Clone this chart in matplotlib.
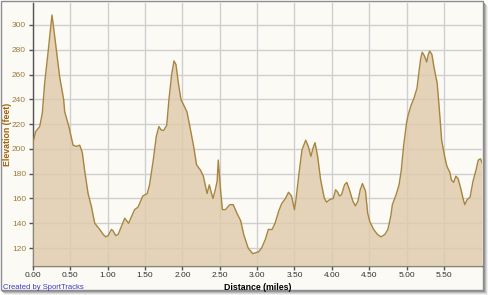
import matplotlib
matplotlib.use("Agg")
import matplotlib.pyplot as plt
from matplotlib.patches import Rectangle

plt.rcParams["font.family"] = ["Liberation Sans", "DejaVu Sans"]

# elevation profile (miles, feet)
dist = [0.00, 0.036, 0.09, 0.125, 0.156, 0.20, 0.254, 0.29, 0.357, 0.41, 0.424, 0.48,
        0.536, 0.58, 0.625, 0.66, 0.69, 0.737, 0.78, 0.826, 0.893, 0.94, 0.973, 1.005,
        1.05, 1.07, 1.107, 1.14, 1.18, 1.228, 1.28, 1.317, 1.36, 1.406, 1.47, 1.53,
        1.56, 1.61, 1.65, 1.685, 1.72, 1.75, 1.79, 1.82, 1.856, 1.887, 1.914, 1.946,
        1.98, 2.02, 2.06, 2.10, 2.15, 2.19, 2.24, 2.28, 2.33, 2.36, 2.39, 2.41,
        2.44, 2.465, 2.48, 2.51, 2.535, 2.576, 2.635, 2.68, 2.73, 2.78, 2.82, 2.88,
        2.94, 2.97, 3.02, 3.06, 3.11, 3.15, 3.20, 3.24, 3.29, 3.33, 3.38, 3.42,
        3.46, 3.50, 3.52, 3.56, 3.60, 3.65, 3.685, 3.72, 3.75, 3.775, 3.81, 3.85,
        3.90, 3.93, 3.97, 4.02, 4.05, 4.08, 4.10, 4.13, 4.17, 4.20, 4.23, 4.28,
        4.315, 4.35, 4.38, 4.41, 4.45, 4.48, 4.51, 4.56, 4.61, 4.66, 4.71, 4.75,
        4.79, 4.81, 4.86, 4.90, 4.93, 4.96, 5.00, 5.02, 5.06, 5.10, 5.14, 5.17,
        5.19, 5.21, 5.24, 5.27, 5.29, 5.31, 5.34, 5.37, 5.41, 5.44, 5.47, 5.51,
        5.54, 5.58, 5.60, 5.63, 5.66, 5.69, 5.73, 5.76, 5.78, 5.81, 5.85, 5.89,
        5.93, 5.96, 5.99, 6.01]
elev = [205, 214, 218, 229, 253, 277, 308, 291, 258, 240, 230, 218,
        203, 202, 203, 197, 183, 164, 154, 140, 135, 131, 129, 130,
        135, 134, 130, 131, 137, 144, 140, 145, 151, 153, 162, 164,
        171, 191, 210, 218, 215, 215, 219, 240, 260, 271, 268, 253,
        240, 235, 230, 218, 202, 187, 183, 178, 164, 171, 164, 160,
        167, 174, 191, 167, 151, 151, 155, 155, 148, 142, 131, 120,
        115.5, 116, 117, 120, 127, 135, 135, 140, 150, 156, 160, 165,
        162, 151, 159, 180, 199, 207, 202, 194, 201, 205, 194, 175,
        160, 157, 159, 160, 167, 165, 162, 163, 171, 173, 168, 158,
        154, 158, 167, 172, 166, 148, 141, 135, 131, 129, 131, 135,
        146, 155, 163, 171, 183, 202, 221, 227, 235, 241, 249, 264,
        273, 278, 275, 270, 276, 279, 276, 265, 253, 231, 207, 194,
        186, 181, 175, 173, 178, 176, 167, 159, 155, 159, 161, 174,
        183, 191, 192, 189]

xticks = [0.0, 0.5, 1.0, 1.5, 2.0, 2.5, 3.0, 3.5, 4.0, 4.5, 5.0, 5.5]
yticks = [120, 140, 160, 180, 200, 220, 240, 260, 280, 300]

W, H = 489, 295
fig = plt.figure(figsize=(W / 100, H / 100), dpi=100)
fig.patch.set_facecolor("white")

# screenshot frame with a soft shadow
for i, c in enumerate(["#f0f0f0", "#d8d8d8", "#b8b8b8", "#999999"]):
    off = 5 - i
    fig.patches.append(Rectangle(((off) / W, (H - 290 - off) / H), 483 / W, 289 / H,
                                 transform=fig.transFigure, facecolor=c, edgecolor="none", zorder=0))
fig.patches.append(Rectangle((0.5 / W, (H - 290) / H), 483 / W, 289.5 / H,
                             transform=fig.transFigure, facecolor="#fbfaf5",
                             edgecolor="#8c8c8c", linewidth=1, zorder=1))

ax = fig.add_axes([33 / W, 1 - 266 / H, 449 / W, 263 / H])
ax.set_facecolor("#fbfaf5")
ax.set_zorder(2)

ymin = 105.5
ax.fill_between(dist, elev, ymin, color="#dfcaa9", alpha=0.8, linewidth=0, zorder=3)
ax.plot(dist, elev, color="#a8853f", linewidth=1, zorder=4)

ax.set_xlim(0, dist[-1])
ax.set_ylim(ymin, 317.7)
ax.set_xticks(xticks)
ax.set_xticklabels(["%.2f" % v for v in xticks])
ax.set_yticks(yticks)
ax.grid(True, color="#cfcfcf", linewidth=1, zorder=1)
ax.set_axisbelow(True)

for s in ["top", "right"]:
    ax.spines[s].set_visible(False)
for s in ["left", "bottom"]:
    ax.spines[s].set_color("#555555")
    ax.spines[s].set_linewidth(1)

ax.tick_params(axis="x", length=3, width=1, color="#555555", labelsize=6,
               labelcolor="#333333", pad=1.5)
ax.tick_params(axis="y", length=3, width=1, color="#555555", labelsize=6,
               labelcolor="#9c7a3c", pad=2)

ax.set_xlabel("Distance (miles)", fontsize=6.3, fontweight="bold", color="black", labelpad=3)
ax.set_ylabel("Elevation (feet)", fontsize=6.3, fontweight="bold", color="#a0620a",
              va="center")
ax.yaxis.set_label_coords(-25 / 449, 0.5)

fig.text(3 / W, 1 - 289 / H, "Created by SportTracks", fontsize=5.5, color="#3a3ad0",
         va="baseline", ha="left", zorder=5)

fig.savefig("out.png", dpi=100, facecolor=fig.get_facecolor())
